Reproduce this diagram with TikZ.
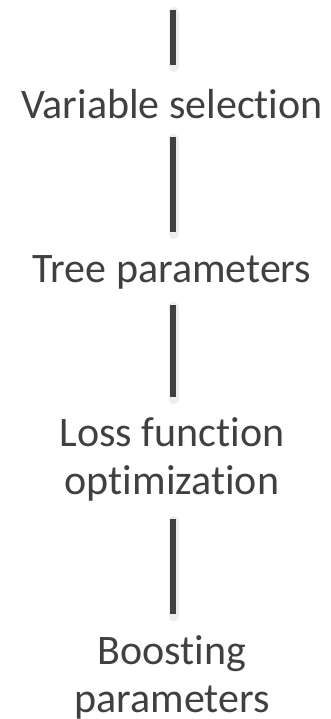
\documentclass[tikz,border=0pt]{standalone}
\usepackage{fontspec}
\setmainfont{Carlito}[Ligatures=NoCommon]
\definecolor{ink}{HTML}{404040}
\newcommand{\twolines}[2]{\vtop{\halign{\hfil##\hfil\cr #1\cr #2\cr}}}
\begin{document}
\begin{tikzpicture}[x=1pt,y=-1pt,
  label text/.style={anchor=base,inner sep=0pt,text=ink,
    font=\fontsize{42}{48}\selectfont},
  bar/.style={draw=ink,line width=6pt,line cap=butt},
  bar shade/.style={draw=black,opacity=0.07,line width=10pt,line cap=round,
    transform canvas={shift={(1pt,-2pt)}}}]
  \useasboundingbox (0,0) rectangle (330,719);
  \fill[white] (0,0) rectangle (330,719);

  % stage labels, each placed on the baseline of its first line
  \node[label text] (vs) at (172,119) {Variable selection};
  \node[label text] (tp) at (172,282) {Tree parameters};
  \node[label text] (lf) at (172,446) {\twolines{Loss function}{optimization}};
  \node[label text] (bp) at (172,664) {\twolines{Boosting}{parameters}};

  \coordinate (start) at (172.5,10);

  % vertical bars between the stages
  \draw[bar shade] (start) -- ([shift={(0.5pt,54pt)}]vs.base);
  \draw[bar] (start) -- ([shift={(0.5pt,54pt)}]vs.base);

  \draw[bar shade] ([shift={(0.5pt,-18pt)}]vs.base) -- ([shift={(0.5pt,50pt)}]tp.base);
  \draw[bar] ([shift={(0.5pt,-18pt)}]vs.base) -- ([shift={(0.5pt,50pt)}]tp.base);

  \draw[bar shade] ([shift={(0.5pt,-23pt)}]tp.base) -- ([shift={(0.5pt,49pt)}]lf.base);
  \draw[bar] ([shift={(0.5pt,-23pt)}]tp.base) -- ([shift={(0.5pt,49pt)}]lf.base);

  \draw[bar shade] ([shift={(0.5pt,-73pt)}]lf.base) -- ([shift={(0.5pt,50pt)}]bp.base);
  \draw[bar] ([shift={(0.5pt,-73pt)}]lf.base) -- ([shift={(0.5pt,50pt)}]bp.base);
\end{tikzpicture}
\end{document}
